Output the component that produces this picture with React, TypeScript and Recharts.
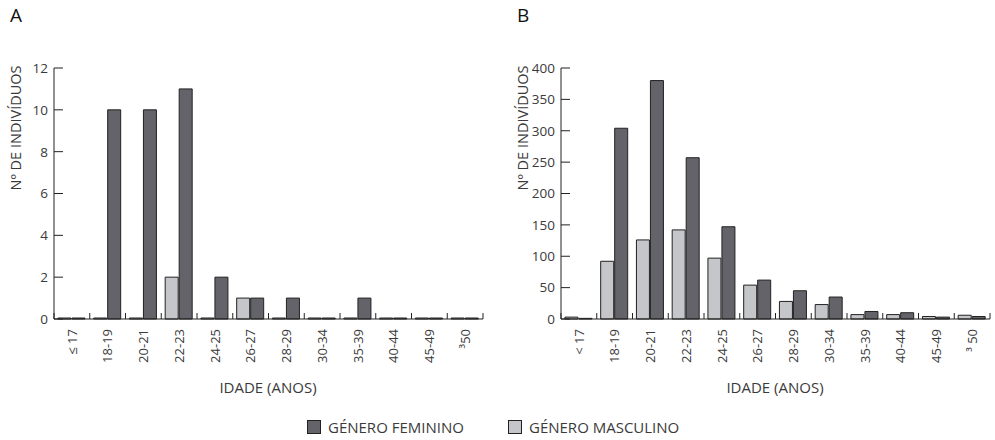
import React from "react";
import { BarChart, Bar, XAxis, YAxis } from "recharts";

const categoriesA = ["≤ 17", "18-19", "20-21", "22-23", "24-25", "26-27", "28-29", "30-34", "35-39", "40-44", "45-49", "³50"];
const categoriesB = ["< 17", "18-19", "20-21", "22-23", "24-25", "26-27", "28-29", "30-34", "35-39", "40-44", "45-49", "³ 50"];

const femininoA = [0, 10, 10, 11, 2, 1, 1, 0, 1, 0, 0, 0];
const masculinoA = [0, 0, 0, 2, 0, 1, 0, 0, 0, 0, 0, 0];

const femininoB = [1, 304, 380, 257, 147, 62, 45, 35, 12, 10, 3, 4];
const masculinoB = [3, 92, 126, 142, 97, 54, 28, 23, 7, 7, 4, 6];

const ticksA = [0, 2, 4, 6, 8, 10, 12];
const ticksB = [0, 50, 100, 150, 200, 250, 300, 350, 400];

const DARK = "#646369";
const LIGHT = "#c5c6ca";
const EDGE = "#222";
const TEXT = "#3a3a3a";
const FONT = "'Open Sans', sans-serif";

function YTick({ x, y, payload }: any) {
  return (
    <g>
      <line x1={x + 6} x2={x + 15} y1={y} y2={y} stroke={EDGE} />
      <text x={x} y={y} dy="0.36em" textAnchor="end" fontSize={13.5} fill={TEXT} fontFamily={FONT}>
        {payload.value}
      </text>
    </g>
  );
}

function XTick({ x, y, payload, index, visibleTicksCount }: any) {
  const off = payload.offset ?? 17.875;
  const last = index === (visibleTicksCount ?? 12) - 1;
  return (
    <g>
      <line x1={x - off} x2={x - off} y1={y} y2={y - 6} stroke={EDGE} />
      {last && <line x1={x + off} x2={x + off} y1={y} y2={y - 6} stroke={EDGE} />}
      <text
        x={x}
        y={y + 10}
        dy="0.36em"
        transform={`rotate(-90 ${x} ${y + 10})`}
        textAnchor="end"
        fontSize={13}
        fill={TEXT}
        fontFamily={FONT}
      >
        {payload.value}
      </text>
    </g>
  );
}

function Panel({
  letter,
  cats,
  fem,
  masc,
  ticks,
  left,
  width,
  minSize,
}: {
  letter: string;
  cats: string[];
  fem: number[];
  masc: number[];
  ticks: number[];
  left: number;
  width: number;
  minSize: number;
}) {
  const data = cats.map((c, i) => ({ name: c, feminino: fem[i], masculino: masc[i] }));
  const right = width - 483;
  return (
    <div style={{ position: "absolute", left, top: 0, width, height: 400 }}>
      <BarChart
        width={width}
        height={400}
        data={data}
        margin={{ top: 68, right, left: 0, bottom: 11 }}
        barCategoryGap="11%"
        barGap={1}
      >
        <XAxis
          dataKey="name"
          height={70}
          interval={0}
          tickLine={false}
          tickSize={0}
          tickMargin={0}
          axisLine={{ stroke: EDGE }}
          tick={<XTick />}
        />
        <YAxis
          width={54}
          domain={[0, ticks[ticks.length - 1]]}
          ticks={ticks}
          interval={0}
          tickLine={false}
          tickSize={0}
          tickMargin={6}
          axisLine={{ stroke: EDGE }}
          tick={<YTick />}
        />
        <Bar dataKey="masculino" fill={LIGHT} stroke={EDGE} strokeWidth={1} minPointSize={minSize} isAnimationActive={false} />
        <Bar dataKey="feminino" fill={DARK} stroke={EDGE} strokeWidth={1} minPointSize={minSize} isAnimationActive={false} />
      </BarChart>
      <svg
        width={width}
        height={400}
        style={{ position: "absolute", left: 0, top: 0, pointerEvents: "none" }}
        fontFamily={FONT}
      >
        <text x={10} y={22} fontSize={19} fill="#111">
          {letter}
        </text>
        <text
          x={16}
          y={128}
          transform="rotate(-90 16 128)"
          textAnchor="middle"
          dy="0.36em"
          fontSize={14.5}
          fill={TEXT}
        >
          Nº DE INDIVÍDUOS
        </text>
        <text x={268} y={393} textAnchor="middle" fontSize={15} fill={TEXT}>
          IDADE (ANOS)
        </text>
      </svg>
    </div>
  );
}

function LegendItem({ left, color, label }: { left: number; color: string; label: string }) {
  return (
    <div style={{ position: "absolute", left, top: 420, display: "flex", alignItems: "center" }}>
      <div style={{ width: 12, height: 12, background: color, border: `1px solid ${EDGE}` }} />
      <span style={{ marginLeft: 7, fontSize: 15, color: TEXT, fontFamily: FONT, lineHeight: "14px" }}>{label}</span>
    </div>
  );
}

export default function App() {
  return (
    <div
      style={{
        position: "absolute",
        left: 0,
        top: 0,
        width: 995,
        height: 440,
        background: "#fff",
        overflow: "hidden",
      }}
    >
      <Panel letter="A" cats={categoriesA} fem={femininoA} masc={masculinoA} ticks={ticksA} left={0} width={495} minSize={1} />
      <Panel letter="B" cats={categoriesB} fem={femininoB} masc={masculinoB} ticks={ticksB} left={507} width={488} minSize={0} />
      <LegendItem left={307} color={DARK} label="GÉNERO FEMININO" />
      <LegendItem left={508} color={LIGHT} label="GÉNERO MASCULINO" />
    </div>
  );
}
